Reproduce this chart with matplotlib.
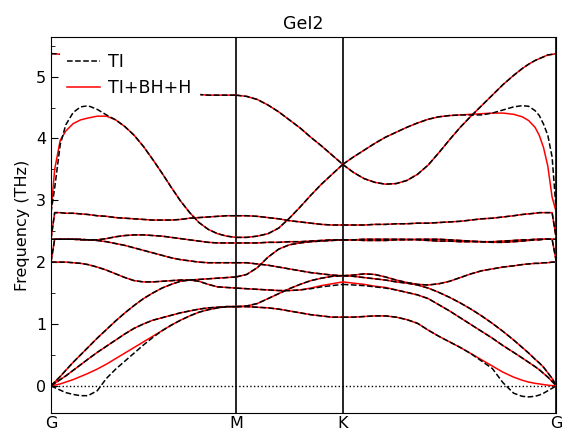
import matplotlib.pyplot as plt
import numpy as np

# fractions of q along each path segment
t_gm = [0, 0.02, 0.05, 0.08, 0.12, 0.16, 0.2, 0.25, 0.3, 0.35, 0.4, 0.45, 0.5,
        0.55, 0.6, 0.65, 0.7, 0.75, 0.8, 0.85, 0.9, 0.95, 1.0]
t_mk = [0, 0.1, 0.2, 0.3, 0.4, 0.5, 0.6, 0.7, 0.8, 0.9, 1.0]
t_kg = [0, 0.05, 0.1, 0.15, 0.2, 0.25, 0.3, 0.35, 0.4, 0.45, 0.5, 0.55, 0.6,
        0.65, 0.7, 0.75, 0.8, 0.84, 0.87, 0.9, 0.92, 0.94, 0.96, 0.98, 1.0]
seg_len = [0.866, 0.5, 1.0]
labels = ['G', 'M', 'K', 'G']

# ---- TI bands (THz) ----
# G-M
top_gm = [5.37, 5.37, 5.36, 5.34, 5.30, 5.25, 5.19, 5.12, 5.05, 4.98, 4.92, 4.87, 4.82,
          4.78, 4.75, 4.73, 4.72, 4.71, 4.71, 4.70, 4.70, 4.70, 4.70]
lo_gm = [2.80, 3.20, 3.90, 4.22, 4.42, 4.51, 4.53, 4.47, 4.38, 4.30, 4.19, 4.05, 3.87,
         3.66, 3.44, 3.21, 2.99, 2.80, 2.64, 2.53, 2.46, 2.42, 2.40]
a_gm = [2.37, 2.80, 2.80, 2.79, 2.79, 2.78, 2.77, 2.75, 2.74, 2.72, 2.71, 2.70, 2.69,
        2.68, 2.68, 2.68, 2.69, 2.71, 2.72, 2.73, 2.74, 2.75, 2.75]
b1_gm = [2.37, 2.37, 2.37, 2.37, 2.37, 2.37, 2.36, 2.36, 2.38, 2.41, 2.43, 2.44, 2.44,
         2.43, 2.42, 2.40, 2.38, 2.36, 2.34, 2.32, 2.31, 2.31, 2.31]
b2_gm = [2.00, 2.37, 2.37, 2.37, 2.37, 2.36, 2.36, 2.35, 2.33, 2.30, 2.27, 2.23, 2.19,
         2.15, 2.11, 2.07, 2.04, 2.02, 2.00, 1.99, 1.99, 1.99, 1.99]
c_gm = [2.00, 2.00, 2.00, 2.00, 1.99, 1.98, 1.96, 1.92, 1.87, 1.81, 1.75, 1.70, 1.68,
        1.68, 1.69, 1.70, 1.71, 1.71, 1.69, 1.64, 1.60, 1.59, 1.58]
la_gm = [0, 0.06, 0.15, 0.25, 0.38, 0.50, 0.62, 0.77, 0.91, 1.05, 1.18, 1.30, 1.41,
         1.50, 1.58, 1.64, 1.69, 1.71, 1.72, 1.73, 1.74, 1.75, 1.76]
ta_gm = [0, 0.04, 0.10, 0.16, 0.25, 0.34, 0.43, 0.54, 0.64, 0.74, 0.84, 0.93, 1.00,
         1.06, 1.10, 1.14, 1.18, 1.21, 1.24, 1.26, 1.27, 1.28, 1.28]
za_gm = [0, -0.03, -0.07, -0.11, -0.14, -0.16, -0.16, -0.08, 0.12, 0.27, 0.40, 0.53, 0.66,
         0.78, 0.89, 0.98, 1.06, 1.13, 1.19, 1.23, 1.26, 1.28, 1.28]

# M-K
top_mk = [4.70, 4.68, 4.63, 4.54, 4.43, 4.30, 4.17, 4.02, 3.88, 3.73, 3.58]
lo_mk = [2.40, 2.40, 2.42, 2.46, 2.55, 2.71, 2.89, 3.08, 3.26, 3.42, 3.58]
a_mk = [2.75, 2.75, 2.74, 2.72, 2.70, 2.67, 2.65, 2.63, 2.61, 2.60, 2.60]
b1_mk = [2.31, 2.31, 2.31, 2.32, 2.32, 2.33, 2.33, 2.34, 2.35, 2.36, 2.36]
b2_mk = [1.99, 1.99, 1.97, 1.95, 1.92, 1.89, 1.86, 1.83, 1.81, 1.79, 1.78]
c_mk = [1.58, 1.57, 1.56, 1.55, 1.54, 1.54, 1.55, 1.57, 1.60, 1.62, 1.64]
la_mk = [1.76, 1.80, 1.91, 2.08, 2.21, 2.28, 2.31, 2.33, 2.34, 2.35, 2.36]
ta_mk = [1.28, 1.29, 1.33, 1.41, 1.49, 1.57, 1.64, 1.70, 1.74, 1.77, 1.78]
za_mk = [1.28, 1.28, 1.27, 1.26, 1.24, 1.21, 1.18, 1.15, 1.13, 1.11, 1.11]

# K-G
top_kg = [3.58, 3.45, 3.35, 3.29, 3.26, 3.27, 3.32, 3.42, 3.57, 3.77, 3.98, 4.18, 4.36,
          4.53, 4.70, 4.87, 5.02, 5.13, 5.20, 5.26, 5.29, 5.32, 5.35, 5.36, 5.37]
lo_kg = [3.58, 3.70, 3.81, 3.92, 4.02, 4.10, 4.18, 4.25, 4.31, 4.35, 4.37, 4.38, 4.38,
         4.38, 4.41, 4.46, 4.51, 4.53, 4.52, 4.45, 4.37, 4.23, 4.05, 3.70, 2.80]
a_kg = [2.60, 2.60, 2.60, 2.61, 2.61, 2.62, 2.62, 2.63, 2.63, 2.64, 2.65, 2.66, 2.68,
        2.70, 2.71, 2.73, 2.75, 2.77, 2.78, 2.79, 2.80, 2.80, 2.80, 2.80, 2.37]
b1_kg = [2.36, 2.36, 2.37, 2.37, 2.37, 2.37, 2.37, 2.36, 2.35, 2.34, 2.34, 2.33, 2.33,
         2.33, 2.33, 2.34, 2.35, 2.36, 2.36, 2.37, 2.37, 2.37, 2.37, 2.37, 2.37]
b2_kg = [2.36, 2.36, 2.35, 2.35, 2.35, 2.36, 2.36, 2.37, 2.37, 2.37, 2.36, 2.35, 2.34,
         2.33, 2.32, 2.32, 2.33, 2.34, 2.35, 2.36, 2.36, 2.37, 2.37, 2.37, 2.00]
c_kg = [1.78, 1.79, 1.81, 1.80, 1.76, 1.71, 1.67, 1.64, 1.63, 1.65, 1.69, 1.75, 1.81,
        1.86, 1.89, 1.92, 1.94, 1.96, 1.97, 1.98, 1.98, 1.99, 1.99, 2.00, 2.00]
la_kg = [1.78, 1.77, 1.75, 1.73, 1.71, 1.68, 1.66, 1.63, 1.58, 1.51, 1.43, 1.34, 1.24,
         1.13, 1.01, 0.88, 0.74, 0.62, 0.53, 0.43, 0.37, 0.30, 0.21, 0.12, 0.0]
ta_kg = [1.64, 1.63, 1.62, 1.60, 1.58, 1.55, 1.51, 1.47, 1.41, 1.31, 1.21, 1.10, 0.99,
         0.88, 0.77, 0.65, 0.54, 0.45, 0.38, 0.31, 0.26, 0.20, 0.14, 0.07, 0.0]
za_kg = [1.11, 1.11, 1.12, 1.13, 1.13, 1.11, 1.07, 1.01, 0.90, 0.80, 0.71, 0.62, 0.52,
         0.40, 0.28, 0.05, -0.12, -0.17, -0.18, -0.17, -0.15, -0.12, -0.08, -0.04, 0.0]

# ---- TI+BH+H bands that differ from TI ----
lo_gm_bh = [2.80, 3.50, 3.97, 4.12, 4.24, 4.30, 4.33, 4.36, 4.36, 4.30, 4.19, 4.05, 3.87,
            3.66, 3.44, 3.21, 2.99, 2.80, 2.64, 2.53, 2.46, 2.42, 2.40]
za_gm_bh = [0, 0.01, 0.03, 0.06, 0.10, 0.15, 0.20, 0.27, 0.35, 0.44, 0.53, 0.62, 0.71,
            0.80, 0.89, 0.98, 1.06, 1.13, 1.19, 1.23, 1.26, 1.28, 1.28]
c_mk_bh = [1.58, 1.57, 1.56, 1.55, 1.54, 1.54, 1.55, 1.58, 1.62, 1.65, 1.68]
lo_kg_bh = [3.58, 3.70, 3.81, 3.92, 4.02, 4.10, 4.18, 4.25, 4.31, 4.35, 4.37, 4.38, 4.39,
            4.40, 4.41, 4.41, 4.39, 4.35, 4.29, 4.18, 4.05, 3.85, 3.55, 3.05, 2.80]
ta_kg_bh = [1.68, 1.66, 1.64, 1.61, 1.59, 1.55, 1.51, 1.47, 1.41, 1.31, 1.21, 1.10, 0.99,
            0.88, 0.77, 0.65, 0.54, 0.45, 0.38, 0.31, 0.26, 0.20, 0.14, 0.07, 0.0]
za_kg_bh = [1.11, 1.11, 1.12, 1.13, 1.13, 1.11, 1.07, 1.01, 0.90, 0.80, 0.71, 0.62, 0.52,
            0.42, 0.32, 0.22, 0.14, 0.09, 0.06, 0.04, 0.03, 0.02, 0.01, 0.003, 0.0]

ti_gm = [top_gm, lo_gm, a_gm, b1_gm, b2_gm, c_gm, la_gm, ta_gm, za_gm]
ti_mk = [top_mk, lo_mk, a_mk, b1_mk, b2_mk, c_mk, la_mk, ta_mk, za_mk]
ti_kg = [top_kg, lo_kg, a_kg, b1_kg, b2_kg, c_kg, la_kg, ta_kg, za_kg]
bh_gm = [top_gm, lo_gm_bh, a_gm, b1_gm, b2_gm, c_gm, la_gm, ta_gm, za_gm_bh]
bh_mk = [top_mk, lo_mk, a_mk, b1_mk, b2_mk, c_mk_bh, la_mk, ta_mk, za_mk]
bh_kg = [top_kg, lo_kg_bh, a_kg, b1_kg, b2_kg, c_kg, la_kg, ta_kg_bh, za_kg_bh]

# path coordinates
x_gm = np.array(t_gm) * seg_len[0]
x_mk = seg_len[0] + np.array(t_mk) * seg_len[1]
x_kg = seg_len[0] + seg_len[1] + np.array(t_kg) * seg_len[2]
ticks = np.cumsum([0] + seg_len)

fig = plt.figure(figsize=(5.62, 4.33), dpi=100)
ax = fig.add_axes([0.0907, 0.0462, 0.8993, 0.8683])

for xs, bands in [(x_gm, bh_gm), (x_mk, bh_mk), (x_kg, bh_kg)]:
    for b in bands:
        ax.plot(xs, b, color='red', lw=1.1, zorder=2)
for xs, bands in [(x_gm, ti_gm), (x_mk, ti_mk), (x_kg, ti_kg)]:
    for b in bands:
        ax.plot(xs, b, color='black', ls='--', lw=1.1, zorder=3)

for xv in ticks[1:]:
    ax.axvline(xv, color='black', lw=1.2, zorder=1)
ax.axhline(0, color='black', ls=':', lw=1.0, zorder=1)

ax.set_xlim(ticks[0], ticks[-1])
ax.set_ylim(-0.44, 5.64)
ax.set_xticks(ticks)
ax.set_xticklabels(labels)
ax.set_yticks([0, 1, 2, 3, 4, 5])
ax.set_yticks(np.arange(-0.0, 5.6, 0.5), minor=True)
ax.tick_params(axis='both', which='both', direction='in', labelsize=11.5)
ax.tick_params(axis='y', which='major', length=5)
ax.tick_params(axis='y', which='minor', length=3)
ax.tick_params(axis='x', length=0, pad=2.5)
ax.set_ylabel('Frequency (THz)', fontsize=11.5)
ax.set_title('GeI2', fontsize=12.5)

h_ti, = ax.plot([], [], color='black', ls='--', lw=1.1)
h_bh, = ax.plot([], [], color='red', lw=1.1)
leg = ax.legend([h_ti, h_bh], ['TI', 'TI+BH+H'], loc='upper left', fontsize=12.5,
                handlelength=1.9, handletextpad=0.5, framealpha=1,
                edgecolor='white', fancybox=False)
leg.set_zorder(5)

fig.savefig('out.png', dpi=100)
